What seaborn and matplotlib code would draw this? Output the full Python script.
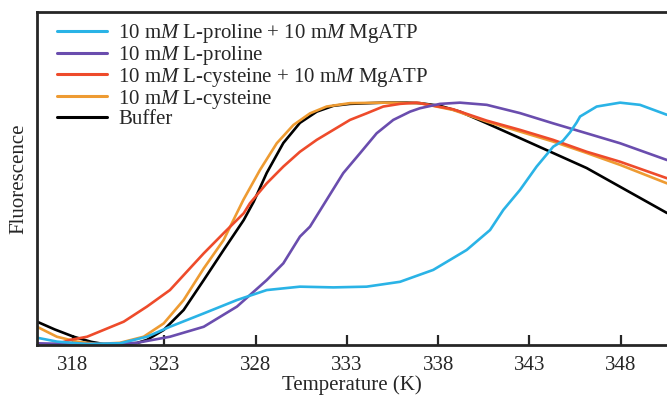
import numpy as np
import pandas as pd
import matplotlib
matplotlib.use("Agg")
import matplotlib.pyplot as plt
import seaborn as sns

# ---- data (temperature in K, fluorescence normalised to peak = 1) ----
buffer_t = [316.03, 317.00, 318.04, 319.00, 319.68, 320.57, 321.50, 322.05, 322.97, 324.06,
            325.16, 326.25, 327.35, 327.90, 328.61, 329.52, 330.43, 331.35, 332.26, 333.17,
            334.99, 336.27, 337.00, 338.10, 339.19, 340.66, 342.48, 344.29, 346.13, 347.96,
            350.53]
buffer_f = [0.096, 0.064, 0.034, 0.013, 0.004, 0.002, 0.008, 0.021, 0.062, 0.144,
            0.267, 0.391, 0.514, 0.590, 0.708, 0.831, 0.914, 0.960, 0.984, 0.992,
            0.997, 0.997, 0.995, 0.984, 0.960, 0.912, 0.851, 0.790, 0.728, 0.651,
            0.543]

cys_t = [316.03, 317.12, 318.22, 319.31, 320.57, 321.87, 322.97, 324.06, 325.16, 326.25,
         327.33, 328.24, 329.16, 330.07, 330.98, 331.89, 333.17, 334.99, 337.00, 338.81,
         340.66, 342.48, 344.29, 346.13, 347.96, 350.53]
cys_f = [0.075, 0.034, 0.014, 0.004, 0.009, 0.034, 0.089, 0.185, 0.315, 0.432,
         0.597, 0.720, 0.830, 0.905, 0.953, 0.981, 0.995, 0.997, 0.995, 0.967,
         0.919, 0.878, 0.837, 0.790, 0.741, 0.665]

cys_atp_t = [316.60, 317.30, 317.85, 318.77, 319.68, 320.78, 322.05, 323.31, 324.24, 325.16,
             326.25, 327.35, 327.69, 328.61, 329.52, 330.43, 331.35, 332.26, 333.17, 334.08,
             334.99, 335.91, 336.82, 338.81, 340.66, 342.48, 344.29, 346.13, 347.96, 350.53]
cys_atp_f = [0.000, 0.008, 0.021, 0.034, 0.062, 0.096, 0.158, 0.226, 0.302, 0.377,
             0.460, 0.542, 0.583, 0.665, 0.734, 0.795, 0.844, 0.885, 0.926, 0.953,
             0.981, 0.992, 0.997, 0.970, 0.923, 0.885, 0.844, 0.795, 0.754, 0.686]

pro_t = [316.03, 317.84, 319.68, 321.50, 323.31, 325.16, 326.98, 328.61, 329.52, 330.43,
         330.98, 331.89, 332.80, 333.72, 334.63, 335.54, 336.46, 337.00, 338.10, 339.19,
         340.66, 342.48, 344.29, 346.13, 347.96, 350.53]
pro_f = [0.007, 0.004, 0.004, 0.009, 0.034, 0.075, 0.158, 0.267, 0.336, 0.446,
         0.487, 0.597, 0.707, 0.789, 0.871, 0.926, 0.960, 0.974, 0.992, 0.997,
         0.988, 0.954, 0.912, 0.871, 0.830, 0.761]

pro_atp_t = [316.03, 317.12, 318.77, 320.57, 322.05, 323.31, 325.16, 326.98, 328.61, 330.43,
             332.26, 334.08, 335.91, 337.73, 339.56, 340.84, 341.57, 342.48, 343.39, 344.30,
             344.83, 345.22, 345.58, 345.77, 346.68, 347.96, 349.05, 350.53]
pro_atp_f = [0.030, 0.014, 0.004, 0.007, 0.034, 0.075, 0.130, 0.185, 0.226, 0.240,
             0.237, 0.240, 0.260, 0.309, 0.391, 0.473, 0.556, 0.638, 0.734, 0.816,
             0.840, 0.875, 0.915, 0.940, 0.981, 0.997, 0.988, 0.947]

labels = [r"10 m$\mathit{M}$ L-proline + 10 m$\mathit{M}$ MgATP",
          r"10 m$\mathit{M}$ L-proline",
          r"10 m$\mathit{M}$ L-cysteine + 10 m$\mathit{M}$ MgATP",
          r"10 m$\mathit{M}$ L-cysteine",
          "Buffer"]
colors = ["#2AB3E6", "#6A4DAE", "#EE4B2B", "#EE9B32", "#000000"]
xticks = [318, 323, 328, 333, 338, 343, 348]

series = [(pro_atp_t, pro_atp_f), (pro_t, pro_f), (cys_atp_t, cys_atp_f),
          (cys_t, cys_f), (buffer_t, buffer_f)]
df = pd.concat([pd.DataFrame({"T": t, "F": f, "sample": lab})
                for (t, f), lab in zip(series, labels)], ignore_index=True)

sns.set_style("ticks")
plt.rcParams["font.family"] = ["Liberation Serif", "DejaVu Serif"]
plt.rcParams["mathtext.fontset"] = "custom"
plt.rcParams["mathtext.rm"] = "Liberation Serif"
plt.rcParams["mathtext.it"] = "Liberation Serif:italic"

fig = plt.figure(figsize=(6.67, 3.95), dpi=100)
ax = fig.add_axes([37 / 667, 1 - 345 / 395, 1 - 37 / 667, (345 - 11.5) / 395])

# draw buffer first so the coloured curves sit on top
sns.lineplot(data=df, x="T", y="F", hue="sample", hue_order=labels[::-1],
             palette=colors[::-1], sort=False, estimator=None, lw=1.9, ax=ax, legend=False)

ax.set_xlim(316.03, 350.53)
ax.set_ylim(0, 1.372)
ax.set_xticks(xticks)
ax.set_yticks([])
ax.tick_params(axis="x", direction="in", length=7, width=1.6, labelsize=15, pad=8)
for side in ["left", "bottom", "top"]:
    ax.spines[side].set_linewidth(2)
ax.spines["right"].set_visible(False)
ax.set_xlabel("Temperature (K)", fontsize=15, labelpad=0)
ax.set_ylabel("Fluorescence", fontsize=15, labelpad=6)

handles = [plt.Line2D([], [], color=c, lw=2.2) for c in colors]
ax.legend(handles, labels, loc="upper left", bbox_to_anchor=(20 / 630, 0.969),
          frameon=False, fontsize=15, handlelength=2.4, handletextpad=0.55,
          labelspacing=-0.05, borderpad=0, borderaxespad=0)

fig.savefig("out.png", dpi=100)
